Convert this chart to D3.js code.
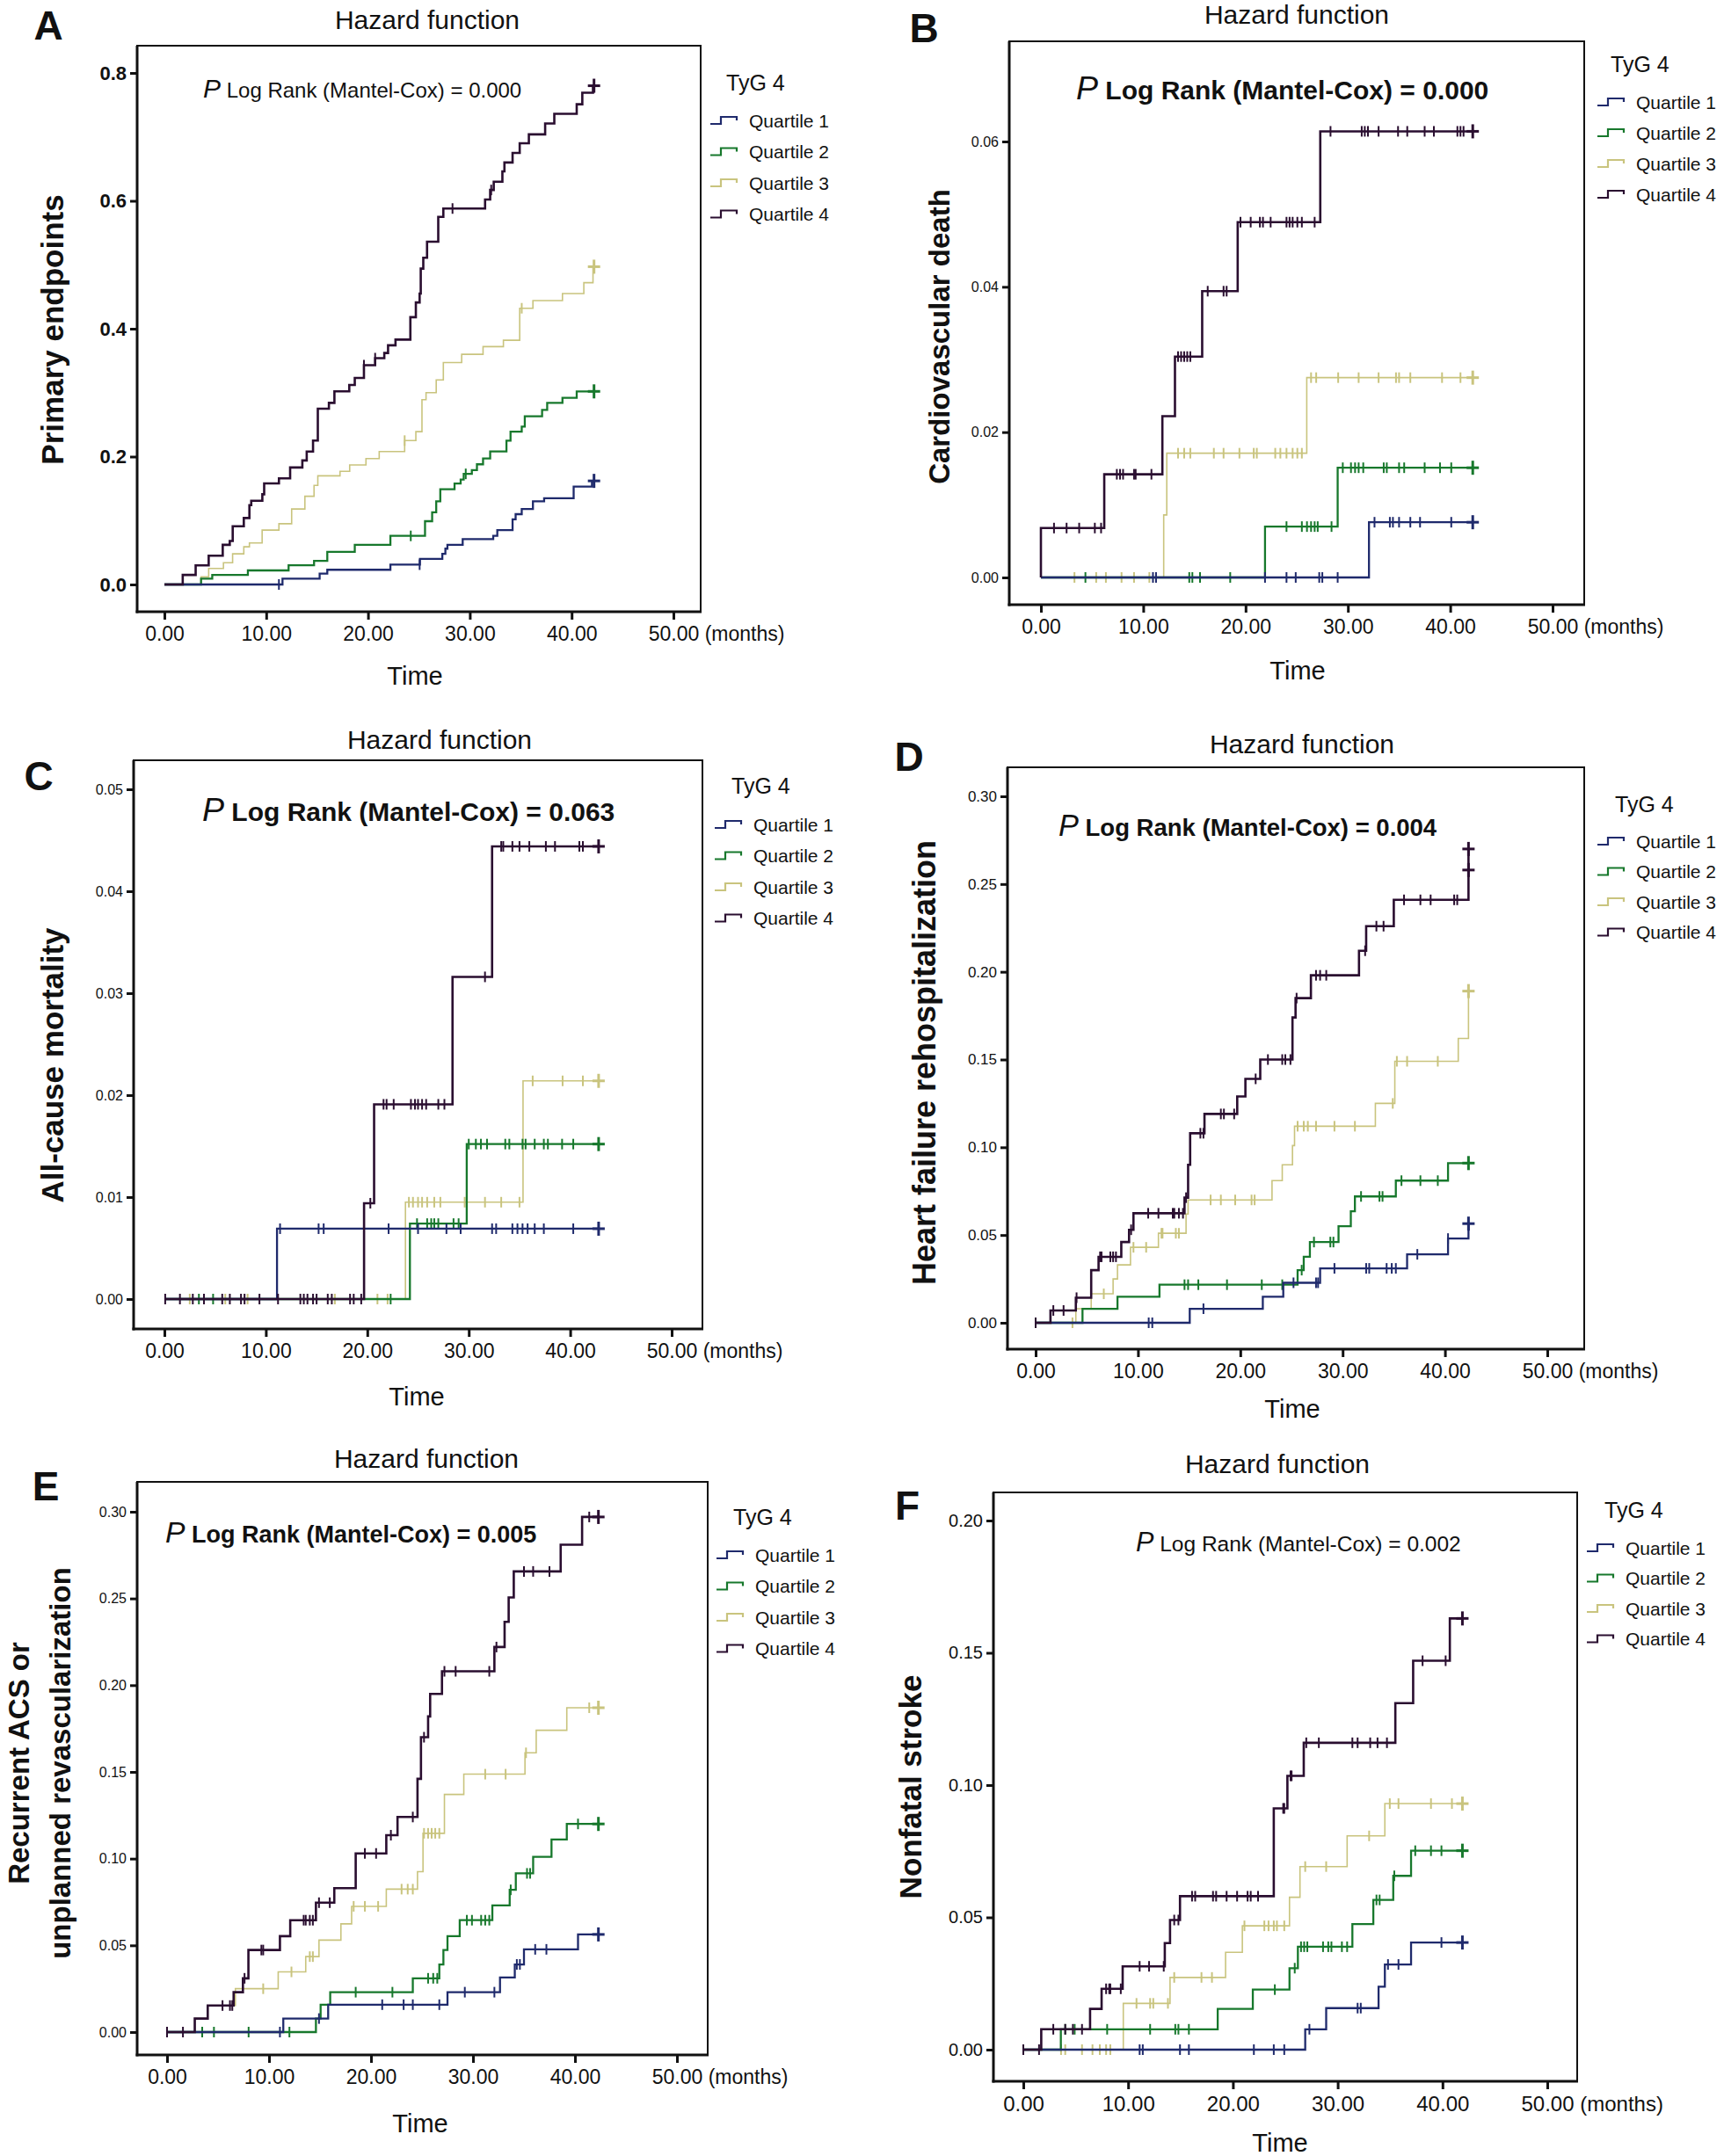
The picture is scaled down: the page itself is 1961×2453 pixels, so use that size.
<!DOCTYPE html>
<html><head><meta charset="utf-8">
<script src="https://cdn.jsdelivr.net/npm/d3@7"></script>
<style>
body{margin:0;background:#fff}
svg{display:block}
text{font-family:"Liberation Sans",Arial,Helvetica,sans-serif;fill:#111}
</style></head>
<body><svg id="chart" width="1961" height="2453"></svg>
<script>
// ---------------- DATA ----------------
const categories = ["Quartile 1", "Quartile 2", "Quartile 3", "Quartile 4"];
const legendTitle = "TyG 4";
const xTickValues = [0, 10, 20, 30, 40, 50];

// Panel A – Primary endpoints
const A_Q1 = [[0,0],[11.6,0.009],[15.25,0.017],[16,0.023],[22.2,0.031],[25.1,0.04],[27.3,0.048],[27.6,0.056],[27.8,0.062],[29.3,0.071],[32.3,0.076],[32.7,0.085],[34.2,0.102],[34.5,0.11],[35.1,0.118],[36.2,0.13],[37.3,0.135],[40.2,0.153],[42.0,0.162],[42.2,0.162]];
const A_Q2 = [[0,0],[3.6,0.009],[4.7,0.015],[8.2,0.022],[12.2,0.03],[14.7,0.037],[16,0.051],[18.7,0.062],[22.2,0.076],[25.6,0.099],[26.3,0.113],[26.7,0.13],[27.1,0.149],[28.5,0.158],[29.1,0.164],[29.4,0.173],[30.2,0.179],[30.7,0.188],[31.3,0.197],[32,0.208],[33.6,0.225],[34,0.239],[35.1,0.247],[35.4,0.263],[37.1,0.273],[37.6,0.284],[39.1,0.292],[40.5,0.302],[42.2,0.302]];
const A_Q3 = [[0,0],[3.6,0.012],[4.35,0.025],[5.8,0.034],[6.7,0.048],[7.8,0.059],[8.35,0.065],[9.6,0.085],[11.25,0.095],[12.5,0.118],[13.8,0.138],[14.7,0.155],[15.07,0.17],[17.25,0.177],[18.2,0.187],[19.8,0.197],[21.1,0.208],[23.6,0.225],[24.7,0.239],[25.3,0.289],[25.7,0.3],[26.7,0.32],[27.4,0.347],[29.2,0.36],[31.3,0.372],[33.3,0.382],[34.9,0.432],[36.2,0.444],[39.1,0.455],[41.2,0.472],[42.1,0.497],[42.2,0.497]];
const A_Q4 = [[0,0],[1.8,0.015],[3.07,0.03],[4.35,0.045],[5.73,0.062],[6.42,0.068],[6.71,0.091],[7.8,0.104],[8.35,0.124],[8.53,0.131],[9.62,0.141],[9.8,0.158],[11.25,0.166],[12.35,0.183],[13.55,0.194],[13.98,0.208],[14.6,0.225],[15.07,0.275],[16.16,0.284],[16.7,0.302],[18.16,0.312],[18.7,0.323],[19.6,0.343],[20.7,0.354],[21.6,0.362],[21.97,0.374],[22.7,0.383],[24.16,0.418],[24.7,0.441],[25.07,0.455],[25.18,0.494],[25.43,0.511],[25.8,0.536],[26.9,0.575],[27.4,0.588],[31.5,0.602],[32,0.617],[32.35,0.63],[33.2,0.646],[33.4,0.66],[34.2,0.675],[34.9,0.69],[35.8,0.704],[37.4,0.721],[38.3,0.736],[40.5,0.751],[41.05,0.769],[42.1,0.78],[42.2,0.78]];
const A_Q1_cens = [11.25, 25.07, 42.2];
const A_Q2_cens = [24.2, 29.6, 42.2];
const A_Q3_cens = [23.6, 35.1, 42.2];
const A_Q4_cens = [19.6, 20.7, 28.3, 32.1, 42.2];

// Panel B – Cardiovascular death
const B_Q1 = [[0,0],[32.06,0.0076],[42.2,0.0076]];
const B_Q2 = [[0,0],[21.9,0.0070],[29.0,0.0151],[42.2,0.0151]];
const B_Q3 = [[0,0],[12.0,0.0086],[12.3,0.0171],[25.98,0.0275],[42.2,0.0275]];
const B_Q4 = [[0,0],[0,0.0068],[6.19,0.0142],[11.87,0.0222],[13.1,0.0304],[15.76,0.0394],[19.23,0.0489],[27.3,0.0614],[42.2,0.0614]];
const B_Q1_cens = [10.95, 11.25, 21.9, 24.0, 24.9, 27.2, 27.5, 29.0, 32.6, 34.1, 34.4, 35.0, 36.1, 37.05, 40.1, 42.2];
const B_Q2_cens = [4.35, 14.5, 14.8, 15.55, 18.5, 24.0, 25.5, 26.0, 26.4, 26.75, 27.05, 28.4, 29.5, 30.3, 30.7, 31.05, 31.5, 33.5, 33.8, 35.0, 35.5, 37.5, 39.0, 40.1, 42.2];
const B_Q3_cens = [3.28, 5.4, 6.35, 7.88, 9.1, 10.6, 13.4, 14.0, 14.6, 16.9, 17.85, 19.4, 20.8, 21.1, 22.9, 23.4, 24.0, 24.6, 25.06, 25.5, 26.4, 26.9, 29.05, 31.05, 33.0, 34.7, 35.0, 36.1, 39.2, 41.0, 42.2];
const B_Q4_cens = [1.28, 2.51, 3.74, 5.27, 5.88, 7.42, 7.73, 8.03, 9.1, 9.26, 10.8, 13.4, 13.7, 14.0, 14.3, 14.6, 16.3, 17.85, 18.15, 19.5, 20.5, 21.4, 21.7, 22.45, 24.0, 24.3, 24.6, 25.06, 25.5, 26.75, 28.3, 31.35, 31.65, 31.96, 33.0, 34.9, 35.8, 37.5, 38.4, 40.7, 41.0, 41.3, 42.2];

// Panel C – All-cause mortality
const C_Q1 = [[0,0],[11.1,0.0069],[42.8,0.0069]];
const C_Q2 = [[0,0],[24.2,0.0074],[29.8,0.0152],[42.8,0.0152]];
const C_Q3 = [[0,0],[23.76,0.0095],[35.35,0.0214],[42.8,0.0214]];
const C_Q4 = [[0,0],[19.68,0.0094],[20.67,0.0191],[28.4,0.0316],[32.3,0.0444],[42.8,0.0444]];
const C_Q1_cens = [11.4, 15.2, 15.7, 22.1, 25.0, 27.8, 29.2, 32.3, 32.7, 34.3, 34.8, 35.3, 35.8, 36.5, 37.4, 40.3, 42.8];
const C_Q2_cens = [3.4, 4.8, 22.3, 24.9, 25.9, 26.3, 26.6, 27.0, 28.5, 29.0, 30.0, 30.7, 31.2, 31.8, 33.6, 34.0, 35.3, 35.6, 36.5, 37.4, 37.8, 39.2, 40.3, 42.8];
const C_Q3_cens = [2.5, 6.0, 8.2, 16.8, 21.0, 22.0, 24.1, 24.5, 25.0, 25.4, 25.9, 26.6, 27.2, 29.6, 31.6, 33.2, 35.0, 36.3, 39.25, 41.25, 42.8];
const C_Q4_cens = [0.08, 1.53, 2.8, 3.9, 5.7, 6.45, 7.55, 7.9, 9.37, 11.2, 13.4, 13.74, 14.1, 14.65, 15.0, 16.1, 16.5, 18.3, 18.66, 19.4, 20.3, 21.6, 21.9, 22.6, 24.3, 24.7, 25.0, 25.4, 25.8, 27.0, 27.6, 31.6, 33.2, 33.4, 34.3, 35.0, 35.97, 37.6, 38.5, 40.9, 41.25, 42.8];

// Panel D – Heart failure rehospitalization
const D_Q1 = [[0,0],[15.06,0.008],[22.2,0.0148],[24.2,0.0228],[27.8,0.031],[36.3,0.039],[40.3,0.048],[42.3,0.0565]];
const D_Q2 = [[0,0],[4.58,0.008],[8.0,0.0148],[12.1,0.0217],[25.6,0.030],[26.2,0.0376],[26.8,0.046],[29.6,0.055],[30.8,0.0635],[31.2,0.072],[35.2,0.081],[40.3,0.091],[42.3,0.091]];
const D_Q3 = [[0,0],[3.93,0.008],[5.43,0.0165],[7.57,0.025],[8.0,0.033],[9.27,0.043],[12.0,0.051],[14.7,0.062],[14.9,0.070],[23.1,0.081],[24.1,0.09],[25.1,0.101],[25.3,0.112],[33.2,0.125],[35.1,0.149],[41.3,0.162],[42.3,0.189]];
const D_Q4 = [[0,0],[1.45,0.007],[3.93,0.0143],[5.43,0.030],[6.15,0.0376],[8.37,0.046],[9.13,0.053],[9.56,0.0624],[14.55,0.0713],[14.9,0.090],[15.1,0.108],[16.5,0.119],[19.7,0.129],[20.5,0.139],[21.95,0.15],[25.1,0.174],[25.4,0.185],[26.9,0.198],[31.6,0.212],[32.3,0.226],[35.0,0.241],[42.3,0.258],[42.3,0.27]];
const D_Q1_cens = [11.05, 11.4, 16.4, 25.2, 27.4, 27.6, 29.2, 32.3, 32.6, 34.3, 34.8, 35.2, 37.3, 40.3, 42.3];
const D_Q2_cens = [14.55, 14.9, 15.9, 18.7, 22.1, 24.1, 26.0, 27.2, 28.8, 29.1, 31.8, 33.6, 33.9, 35.75, 37.6, 39.3, 42.3];
const D_Q3_cens = [3.6, 6.66, 9.56, 10.8, 12.3, 12.4, 13.7, 14.0, 17.1, 18.1, 19.5, 21.1, 21.4, 25.6, 26.2, 26.6, 27.4, 29.2, 31.2, 34.9, 35.3, 36.3, 39.3, 42.3];
const D_Q4_cens = [0, 1.73, 2.73, 4.0, 6.3, 6.44, 7.3, 7.57, 7.85, 9.33, 11.0, 12.0, 13.4, 13.55, 14.0, 14.4, 14.7, 16.1, 16.4, 18.1, 18.4, 19.4, 21.5, 22.7, 24.1, 24.4, 24.9, 25.5, 27.4, 27.8, 28.4, 32.2, 33.3, 34.0, 36.0, 37.6, 38.6, 40.9, 41.2, [42.3, 0.258], 42.3];

// Panel E – Recurrent ACS or unplanned revascularization
const E_Q1 = [[0,0],[11.4,0.0078],[15.8,0.0158],[27.5,0.023],[32.65,0.0315],[34.1,0.039],[35.0,0.0477],[40.3,0.0563],[42.3,0.0563]];
const E_Q2 = [[0,0],[14.6,0.0078],[15.06,0.0158],[16.0,0.023],[24.1,0.031],[26.7,0.039],[27.1,0.0473],[27.5,0.0553],[28.7,0.0645],[31.9,0.073],[33.6,0.082],[34.2,0.0915],[35.9,0.101],[37.7,0.111],[39.2,0.12],[42.3,0.12]];
const E_Q3 = [[0,0],[2.72,0.0078],[3.99,0.0153],[6.7,0.025],[10.9,0.0347],[13.6,0.0435],[14.9,0.053],[17.05,0.0624],[18.1,0.0725],[21.5,0.0824],[24.56,0.0925],[25.1,0.1146],[27.2,0.137],[29.1,0.1487],[35.1,0.161],[36.2,0.174],[39.2,0.187],[42.3,0.187]];
const E_Q4 = [[0,0],[2.72,0.0078],[3.99,0.0153],[6.53,0.023],[7.44,0.031],[7.98,0.0473],[11.07,0.0553],[12.08,0.0645],[14.6,0.0746],[16.4,0.083],[18.5,0.103],[21.5,0.1135],[22.6,0.124],[24.56,0.146],[24.9,0.170],[25.6,0.182],[25.8,0.195],[26.96,0.208],[32.1,0.222],[33.1,0.2365],[33.5,0.2506],[34.0,0.2656],[38.6,0.281],[40.7,0.297],[42.3,0.297]];
const E_Q1_cens = [11.07, 14.9, 21.1, 23.2, 24.1, 26.7, 29.2, 32.1, 34.3, 34.6, 36.1, 37.2, 42.3];
const E_Q2_cens = [3.45, 4.6, 8.0, 12.0, 18.5, 22.1, 25.6, 26.1, 26.5, 29.4, 29.9, 30.8, 31.2, 31.6, 33.7, 35.3, 35.6, 40.3, 42.3];
const E_Q3_cens = [9.43, 12.2, 14.0, 14.3, 18.3, 19.4, 20.7, 23.0, 23.6, 24.1, 25.2, 25.6, 25.95, 26.3, 26.7, 31.2, 33.2, 35.2, 41.4, 42.3];
const E_Q4_cens = [0, 1.56, 5.44, 6.17, 6.4, 7.6, 9.25, 9.43, 13.4, 13.6, 14.0, 14.3, 14.9, 15.96, 19.4, 20.5, 21.95, 24.1, 25.2, 27.2, 28.3, 31.6, 32.3, 35.0, 35.9, 37.5, 41.4, 42.3];

// Panel F – Nonfatal stroke
const F_Q1 = [[0,0],[26.9,0.0077],[28.9,0.0157],[33.9,0.0238],[34.5,0.0322],[37.0,0.0405],[41.9,0.0405]];
const F_Q2 = [[0,0],[3.58,0.0077],[18.55,0.0154],[21.9,0.0227],[25.4,0.0308],[26.2,0.0389],[31.4,0.0475],[33.4,0.0566],[35.3,0.0657],[37.0,0.0752],[41.9,0.0752]];
const F_Q3 = [[0,0],[9.54,0.0175],[14.0,0.0273],[19.3,0.0368],[20.9,0.0468],[25.4,0.0576],[26.4,0.0692],[30.9,0.0808],[34.5,0.093],[41.9,0.093]];
const F_Q4 = [[0,0],[1.71,0.0077],[6.37,0.0154],[7.47,0.023],[9.48,0.0315],[13.5,0.0403],[14.0,0.049],[14.95,0.058],[23.9,0.0912],[25.2,0.1035],[26.76,0.116],[35.5,0.131],[37.2,0.147],[40.7,0.163],[41.9,0.163]];
const F_Q1_cens = [11.1, 11.4, 14.95, 15.8, 22.0, 23.9, 24.9, 27.3, 31.9, 32.2, 34.8, 35.8, 39.9, 41.9];
const F_Q2_cens = [4.0, 4.9, 8.0, 12.1, 14.5, 14.8, 15.8, 24.0, 25.9, 26.5, 26.8, 27.1, 28.6, 29.1, 29.4, 30.4, 30.9, 33.7, 34.0, 35.4, 37.4, 38.9, 39.9, 41.9];
const F_Q3_cens = [3.6, 4.0, 5.6, 6.6, 7.3, 7.9, 8.3, 10.8, 12.1, 12.4, 13.8, 14.4, 17.0, 18.0, 21.1, 23.0, 23.4, 23.9, 24.2, 24.9, 26.9, 28.9, 33.0, 34.97, 35.8, 38.9, 40.9, 41.9];
const F_Q4_cens = [0, 1.5, 2.86, 4.0, 4.73, 5.6, 7.9, 8.2, 8.3, 9.3, 11.1, 12.0, 13.4, 14.4, 14.8, 16.1, 16.4, 18.1, 18.4, 19.4, 20.4, 21.4, 21.7, 22.4, 24.8, 24.9, 25.5, 25.6, 27.0, 28.2, 31.4, 31.9, 33.1, 33.8, 34.7, 38.1, 40.3, 41.9];

// Labels
const yTitles = {A:["Primary endpoints"], B:["Cardiovascular death"], C:["All-cause mortality"], D:["Heart failure rehospitalization"], E:["Recurrent ACS or","unplanned revascularization"], F:["Nonfatal stroke"]};
const pValues = {A:"0.000", B:"0.000", C:"0.063", D:"0.004", E:"0.005", F:"0.002"};
const yTickValues = {A:[0,0.2,0.4,0.6,0.8], B:[0,0.02,0.04,0.06], C:[0,0.01,0.02,0.03,0.04,0.05], D:[0,0.05,0.10,0.15,0.20,0.25,0.30], E:[0,0.05,0.10,0.15,0.20,0.25,0.30], F:[0,0.05,0.10,0.15,0.20]};
const yTickFormats = {A:".1f", B:".2f", C:".2f", D:".2f", E:".2f", F:".2f"};

// ---------------- STYLE / LAYOUT ----------------
const colors = ["#1f2a6c", "#17782c", "#c9c47e", "#2a0e30"];
const widths = [2.3, 2.3, 1.6, 2.6];
const drawOrder = [2, 1, 0, 3];

const layout = {
  A:{box:[156,52,797,696], x0:187, x50:766, y0:665, yTop:83, yMax:0.8, ytick:{size:22,weight:"bold"}, xtick:23,
     title:[486,22], letter:[55,28], ytitle:{x:[59], y:375, size:35}, time:[472,769],
     legend:{icon:808, titleX:826, titleY:94, y1:137, dy:35.5}, ptext:{x:231, y:102, size:24, bold:false}},
  B:{box:[1148,47,1802,688], x0:1184, x50:1766, y0:657, yTop:161, yMax:0.06, ytick:{size:16,weight:"normal"}, xtick:23,
     title:[1475,16], letter:[1051,31], ytitle:{x:[1068], y:383, size:33}, time:[1476,763],
     legend:{icon:1817, titleX:1832, titleY:73, y1:116, dy:35}, ptext:{x:1224, y:102, size:30, bold:true}},
  C:{box:[152,865,799,1512], x0:187, x50:764, y0:1478, yTop:898, yMax:0.05, ytick:{size:16,weight:"normal"}, xtick:23,
     title:[500,841], letter:[44,882], ytitle:{x:[59], y:1212, size:35}, time:[474,1589],
     legend:{icon:813, titleX:832, titleY:894, y1:938, dy:35.5}, ptext:{x:230, y:923, size:30, bold:true}},
  D:{box:[1146,873,1802,1535], x0:1178, x50:1760, y0:1505, yTop:906, yMax:0.30, ytick:{size:17,weight:"normal"}, xtick:23,
     title:[1481,846], letter:[1034,860], ytitle:{x:[1051], y:1209, size:36}, time:[1470,1603],
     legend:{icon:1817, titleX:1837, titleY:915, y1:957, dy:34.5}, ptext:{x:1204, y:941, size:27.5, bold:true}},
  E:{box:[156,1686,805,2338], x0:190, x50:770, y0:2312, yTop:1720, yMax:0.30, ytick:{size:16,weight:"normal"}, xtick:23,
     title:[485,1659], letter:[52,1690], ytitle:{x:[21,68], y:2006, size:33}, time:[478,2416],
     legend:{icon:815, titleX:834, titleY:1726, y1:1769, dy:35.5}, ptext:{x:188, y:1745, size:27, bold:true}},
  F:{box:[1130,1698,1794,2368], x0:1164, x50:1760, y0:2332, yTop:1730, yMax:0.20, ytick:{size:20,weight:"normal"}, xtick:24,
     title:[1453,1665], letter:[1032,1712], ytitle:{x:[1035], y:2033, size:35}, time:[1456,2438],
     legend:{icon:1805, titleX:1825, titleY:1718, y1:1761, dy:34.5}, ptext:{x:1292, y:1756, size:24.5, bold:false}}
};

const seriesByPanel = {
  A:[A_Q1,A_Q2,A_Q3,A_Q4], B:[B_Q1,B_Q2,B_Q3,B_Q4], C:[C_Q1,C_Q2,C_Q3,C_Q4],
  D:[D_Q1,D_Q2,D_Q3,D_Q4], E:[E_Q1,E_Q2,E_Q3,E_Q4], F:[F_Q1,F_Q2,F_Q3,F_Q4]
};
const censByPanel = {
  A:[A_Q1_cens,A_Q2_cens,A_Q3_cens,A_Q4_cens], B:[B_Q1_cens,B_Q2_cens,B_Q3_cens,B_Q4_cens],
  C:[C_Q1_cens,C_Q2_cens,C_Q3_cens,C_Q4_cens], D:[D_Q1_cens,D_Q2_cens,D_Q3_cens,D_Q4_cens],
  E:[E_Q1_cens,E_Q2_cens,E_Q3_cens,E_Q4_cens], F:[F_Q1_cens,F_Q2_cens,F_Q3_cens,F_Q4_cens]
};

// ---------------- DRAW ----------------
const svg = d3.select("#chart");
svg.append("rect").attr("width",1961).attr("height",2453).attr("fill","#fff");

function stepVal(s, t){ let v = s[0][1]; for (const d of s) if (d[0] <= t + 1e-9) v = d[1]; return v; }

Object.keys(layout).forEach(id => {
  const L = layout[id];
  const g = svg.append("g").attr("class","panel-"+id);
  const [bl,bt,br,bb] = L.box;
  const x = d3.scaleLinear().domain([0,50]).range([L.x0, L.x50]);
  const y = d3.scaleLinear().domain([0,L.yMax]).range([L.y0, L.yTop]);

  // frame
  g.append("path").attr("d",`M${bl},${bb}V${bt}H${br}V${bb}`).attr("fill","none").attr("stroke","#111").attr("stroke-width",2);
  g.append("line").attr("x1",bl).attr("x2",bl).attr("y1",bt).attr("y2",bb+1.5).attr("stroke","#111").attr("stroke-width",3);
  g.append("line").attr("x1",bl-1.5).attr("x2",br+1).attr("y1",bb).attr("y2",bb).attr("stroke","#111").attr("stroke-width",3);

  // x axis
  const xa = g.append("g").attr("transform",`translate(0,${bb})`)
    .call(d3.axisBottom(x).tickValues(xTickValues).tickFormat(d3.format(".2f")).tickSize(9).tickPadding(8));
  xa.select(".domain").remove();
  xa.selectAll(".tick line").attr("stroke","#111").attr("stroke-width",3);
  xa.selectAll(".tick text").attr("font-size",L.xtick).attr("fill","#111").attr("font-family","Liberation Sans, Arial, sans-serif");
  xa.selectAll(".tick").filter(d => d === 50).select("text").each(function(){
    const w = this.getComputedTextLength();
    d3.select(this).attr("text-anchor","start").attr("x",-w/2).text("50.00 (months)");
  });

  // y axis
  const ya = g.append("g").attr("transform",`translate(${bl},0)`)
    .call(d3.axisLeft(y).tickValues(yTickValues[id]).tickFormat(d3.format(yTickFormats[id])).tickSize(8).tickPadding(4));
  ya.select(".domain").remove();
  ya.selectAll(".tick line").attr("stroke","#111").attr("stroke-width",3);
  ya.selectAll(".tick text").attr("font-size",L.ytick.size).attr("font-weight",L.ytick.weight).attr("fill","#111").attr("font-family","Liberation Sans, Arial, sans-serif");

  // series
  const line = d3.line().x(d => x(d[0])).y(d => y(d[1])).curve(d3.curveStepAfter);
  const S = seriesByPanel[id], C = censByPanel[id];
  drawOrder.forEach(k => {
    const s = S[k], col = colors[k];
    g.append("path").datum(s).attr("d",line).attr("fill","none").attr("stroke",col)
      .attr("stroke-width",widths[k]).attr("stroke-linejoin","miter");
    const tEnd = s[s.length-1][0];
    const marks = C[k].map(c => Array.isArray(c) ? {t:c[0], v:c[1]} : {t:c, v:stepVal(s,c)});
    marks.forEach(m => {
      const isEnd = m.t >= tEnd - 0.05;
      const hh = isEnd ? 8 : 6;
      g.append("line").attr("x1",x(m.t)).attr("x2",x(m.t)).attr("y1",y(m.v)-hh).attr("y2",y(m.v)+hh)
        .attr("stroke",col).attr("stroke-width",isEnd ? 3 : 2);
      if (isEnd) g.append("line").attr("x1",x(m.t)-7).attr("x2",x(m.t)+7).attr("y1",y(m.v)).attr("y2",y(m.v))
        .attr("stroke",col).attr("stroke-width",3);
    });
  });

  // P text
  const pt = g.append("text").attr("x",L.ptext.x).attr("y",L.ptext.y + L.ptext.size*0.36)
    .attr("font-size",L.ptext.size).attr("font-weight",L.ptext.bold ? "bold" : "normal");
  pt.append("tspan").attr("font-style","italic").attr("font-weight","normal").attr("font-size",L.ptext.size*1.25).text("P");
  pt.append("tspan").text(" Log Rank (Mantel-Cox) = " + pValues[id]);

  // title, letter, axis titles
  g.append("text").attr("x",L.title[0]).attr("y",L.title[1]+30*0.36).attr("text-anchor","middle").attr("font-size",30).text("Hazard function");
  g.append("text").attr("x",L.letter[0]).attr("y",L.letter[1]+46*0.36).attr("text-anchor","middle").attr("font-size",46).attr("font-weight","bold").text(id);
  g.append("text").attr("x",L.time[0]).attr("y",L.time[1]+29*0.36).attr("text-anchor","middle").attr("font-size",29).text("Time");
  yTitles[id].forEach((t,i) => {
    const cx = L.ytitle.x[i], cy = L.ytitle.y;
    g.append("text").attr("transform",`translate(${cx + L.ytitle.size*0.36},${cy}) rotate(-90)`)
      .attr("text-anchor","middle").attr("font-size",L.ytitle.size).attr("font-weight","bold").text(t);
  });

  // legend
  const lg = L.legend;
  g.append("text").attr("x",lg.titleX).attr("y",lg.titleY+25*0.36).attr("font-size",25).text(legendTitle);
  categories.forEach((c,k) => {
    const cy = lg.y1 + k*lg.dy;
    g.append("path").attr("d",`M${lg.icon},${cy+4}H${lg.icon+12}V${cy-4}H${lg.icon+30}V${cy}`)
      .attr("fill","none").attr("stroke",colors[k]).attr("stroke-width",2.2);
    g.append("text").attr("x",lg.icon+44).attr("y",cy+21*0.36).attr("font-size",21).text(c);
  });
});
</script>
</body></html>
